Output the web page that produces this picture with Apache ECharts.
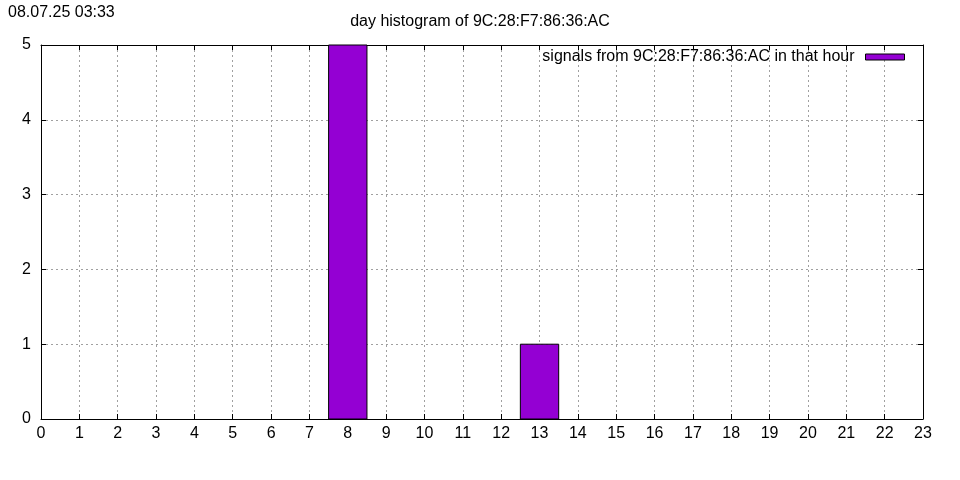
<!DOCTYPE html>
<html><head><meta charset="utf-8">
<script src="https://cdn.jsdelivr.net/npm/echarts@6/dist/echarts.min.js"></script>
<style>html,body{margin:0;padding:0;background:#fff}#c{width:960px;height:480px}</style>
</head><body><div id="c"></div>
<script>
const hours = [0,1,2,3,4,5,6,7,8,9,10,11,12,13,14,15,16,17,18,19,20,21,22];
const counts = [0,0,0,0,0,0,0,0,5,0,0,0,0,1,0,0,0,0,0,0,0,0,0];
const titleText = 'day histogram of 9C:28:F7:86:36:AC';
const stampText = '08.07.25 03:33';
const seriesName = 'signals from 9C:28:F7:86:36:AC in that hour';

const FONT = 'Liberation Sans, Arial, sans-serif';
const chart = echarts.init(document.getElementById('c'), null, {renderer:'canvas'});
const gridLine = {show:true, lineStyle:{color:'#a0a0a0', type:[2,3], width:1}};
const axLine = {show:true, onZero:false, lineStyle:{color:'#000', width:1}};
const ticks = {show:true, inside:true, length:5, lineStyle:{color:'#000'}};
chart.setOption({
  animation:false,
  backgroundColor:'#fff',
  title:{text:titleText, left:'center', top:9, textStyle:{fontFamily:FONT, fontSize:16, fontWeight:'normal', color:'#000'}},
  graphic:[{type:'text', left:8, top:5, style:{text:stampText, fontFamily:FONT, fontSize:16, fill:'#000'}}],
  legend:{show:true, right:50, top:44, align:'right', itemWidth:39, itemHeight:6, itemGap:0,
    textStyle:{fontFamily:FONT, fontSize:16, color:'#000', padding:[0,6,0,0]},
    itemStyle:{color:'#9400d3', borderColor:'#000', borderWidth:1},
    data:[{name:seriesName, icon:'rect'}]},
  grid:{left:41, right:37, top:45, bottom:61},
  xAxis:[
    {type:'value', min:0, max:23, interval:1, position:'bottom', axisLine:axLine, axisTick:ticks, splitLine:gridLine,
     axisLabel:{fontFamily:FONT, fontSize:16, color:'#000', margin:7}},
    {type:'value', min:0, max:23, interval:1, position:'top', axisLine:axLine, axisTick:ticks, splitLine:{show:false}, axisLabel:{show:false}}
  ],
  yAxis:[
    {type:'value', min:0, max:5, interval:1, position:'left', axisLine:axLine, axisTick:ticks, splitLine:gridLine,
     axisLabel:{fontFamily:FONT, fontSize:16, color:'#000', margin:10}},
    {type:'value', min:0, max:5, interval:1, position:'right', axisLine:axLine, axisTick:ticks, splitLine:{show:false}, axisLabel:{show:false}}
  ],
  series:[{
    name:seriesName, type:'custom', xAxisIndex:0, yAxisIndex:0,
    itemStyle:{color:'#9400d3', borderColor:'#000', borderWidth:1},
    data: hours.map((h,i)=>[h, counts[i]]),
    renderItem:function(params, api){
      const x = api.value(0), y = api.value(1);
      if (!y) return null;
      const p0 = api.coord([x-0.5, y]);
      const p1 = api.coord([x+0.5, 0]);
      return {type:'rect', shape:{x:p0[0], y:p0[1], width:p1[0]-p0[0], height:p1[1]-p0[1]},
        style:{fill:'#9400d3', stroke:'#000', lineWidth:1}};
    }
  }]
});
</script></body></html>
